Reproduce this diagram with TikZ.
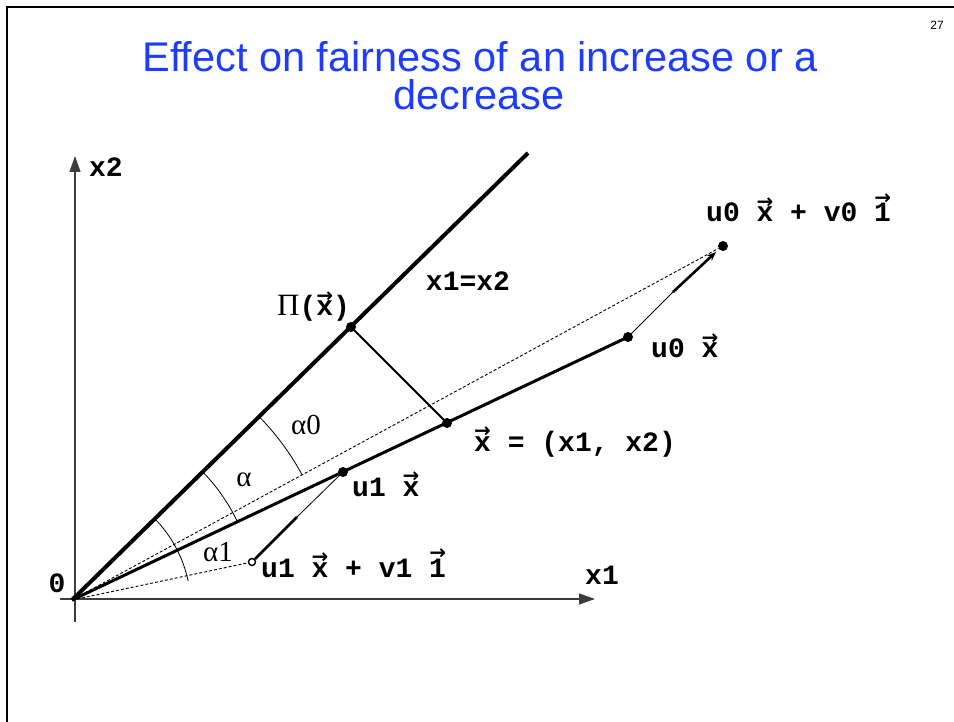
\documentclass[tikz,border=0pt]{standalone}
\usepackage{fontspec}
\setmainfont{Liberation Sans}
\newfontfamily\monof{Liberation Mono}
\newfontfamily\seriff{Liberation Serif}
\newfontfamily\symf{DejaVu Sans}
\usetikzlibrary{arrows.meta}
\definecolor{titleblue}{RGB}{30,60,255}
\definecolor{axisgray}{RGB}{60,60,60}
\newcommand\va[1]{\leavevmode\vbox{\offinterlineskip\halign{\hfil##\hfil\cr{\fontsize{20}{20}\selectfont\symf →}\cr\noalign{\kern-1pt}#1\cr}}}
\begin{document}
\begin{tikzpicture}[x=1pt,y=-1pt,
  lbl/.style={font=\fontsize{28}{30}\selectfont\monof\bfseries, inner sep=0pt},
  glbl/.style={font=\fontsize{29}{30}\selectfont\seriff, inner sep=0pt},
  dotpt/.style={circle, fill=black, inner sep=0pt, minimum size=10pt},
  opendot/.style={circle, draw=black, fill=white, line width=1.4pt, inner sep=0pt, minimum size=7pt},
  axis/.style={draw=axisgray, line width=1.4pt, -{Triangle[length=16pt,width=11pt]}},
  dotted line/.style={line width=0.9pt, dash pattern=on 3pt off 2pt},
  thinl/.style={line width=0.8pt},
  arcl/.style={line width=0.8pt}]
\useasboundingbox (0,0) rectangle (954,722);
% slide frame
\draw[line width=2.5pt] (7,722) -- (7,7) -- (954,7);
\node[font=\fontsize{12}{14}\selectfont, inner sep=0pt] (pg) at (937,25) {27};
% title
\node[font=\fontsize{41.5}{46}\selectfont, text=titleblue, anchor=base, inner sep=0pt] (t1) at (480,72) {Effect on fairness of an increase or a};
\node[font=\fontsize{41.5}{46}\selectfont, text=titleblue, anchor=base, inner sep=0pt] (t2) at (479,110) {decrease};
% coordinates
\coordinate (O) at (72,600);
\coordinate (x2s) at (75,622);
\coordinate (x2e) at (75,156);
\coordinate (x1s) at (60,599);
\coordinate (x1e) at (595,599);
\coordinate (D) at (528,153);
\node[dotpt] (P) at (351,327) {};
\node[dotpt] (X) at (447,423) {};
\node[dotpt] (U0) at (628,337) {};
\node[dotpt] (V0) at (723,246) {};
\node[dotpt] (U1) at (343,472) {};
\node[opendot] (V1) at (252,562) {};
\coordinate (m0) at (673,292);
\coordinate (m0e) at (716,252);
\coordinate (m1) at (297,517);
% axes
\draw[axis] (x2s) -- (x2e);
\draw[axis] (x1s) -- (x1e);
% diagonal
\draw[line width=4pt] (O) -- (D);
% dotted lines
\draw[dotted line] (O) -- (V0);
\draw[dotted line] (O) -- (V1);
% vector x
\draw[line width=3pt] (O) -- (U0.center);
% projection
\draw[line width=2pt] (P.center) -- (X.center);
% offsets
\draw[thinl] (U0.center) -- (m0);
\draw[line width=2.6pt, -{Stealth[length=9pt,width=7pt]}] (m0) -- (m0e);
\draw[thinl] (U1.center) -- (m1);
\draw[line width=2.6pt] (m1) -- (V1);
% angle arcs
\draw[arcl] (O) ++(-44.4:262) arc[start angle=-44.4, end angle=-28.5, radius=262];
\draw[arcl] (O) ++(-44.4:183) arc[start angle=-44.4, end angle=-25.3, radius=183];
\draw[arcl] (O) ++(-44.4:116) arc[start angle=-44.4, end angle=-11.9, radius=126];
% labels
\node[lbl] (lx2) at (106,167) {x2};
\node[lbl] (lx1) at (602,575) {x1};
\node[lbl] (l0) at (57,583) {0};
\node[lbl] (ld) at (468,281) {x1=x2};
\node[lbl, anchor=base west] (lP) at (277,316) {{\seriff\mdseries\fontsize{31}{30}\selectfont Π}(\va{x})};
\node[lbl, anchor=base west] (lV0) at (706,222) {u0 \va{x} + v0 \va{1}};
\node[lbl, anchor=base west] (lU0) at (651,358) {u0 \va{x}};
\node[lbl, anchor=base west] (lX) at (474,451) {\va{x} = (x1, x2)};
\node[lbl, anchor=base west] (lU1) at (352,496) {u1 \va{x}};
\node[lbl, anchor=base west] (lV1) at (261,577) {u1 \va{x} + v1 \va{1}};
\node[glbl] (la0) at (306,425) {α0};
\node[glbl] (la) at (244,480) {α};
\node[glbl] (la1) at (218,552) {α1};
\end{tikzpicture}
\end{document}
